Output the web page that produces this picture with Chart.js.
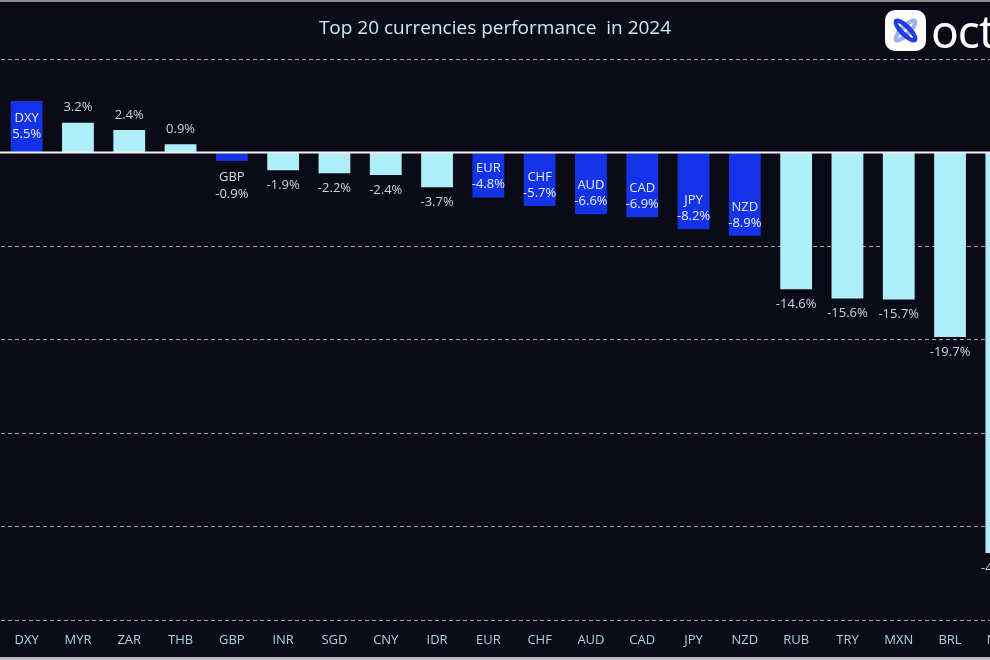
<!DOCTYPE html>
<html>
<head>
<meta charset="utf-8">
<script src="https://cdn.jsdelivr.net/npm/chart.js@4.4.1/dist/chart.umd.min.js"></script>
<style>
  html, body { margin: 0; padding: 0; background: #0b0b17; }
  #wrap { position: relative; width: 990px; height: 660px; overflow: hidden; background: #0b0b17; }
  #wrap canvas { position: absolute; left: 0; top: 0; }
  #titulo { position: absolute; left: 0; top: 14px; width: 990px; text-align: center;
            font-family: "Open Sans", sans-serif; font-size: 19px; color: #c6eef2; }
  #marco-top { position: absolute; left: 0; top: 0; width: 990px; height: 2px; background: #8c8c92; }
  #marco-bot { position: absolute; left: 0; top: 657px; width: 990px; height: 3px; background: #b8b8be; }
  #logo { position: absolute; left: 885px; top: 10px; width: 41px; height: 41px; background: #fff; border-radius: 10px; overflow: hidden; }
  #logo span { position: absolute; left: 5px; top: 14px; width: 31px; height: 13px; border: 5px solid #1f3fe0; border-radius: 50%; box-sizing: border-box; }
  #logo .a { transform: rotate(45deg); }
  #logo .b { transform: rotate(-45deg); border-color: #9fb0f0; }
  #marca { position: absolute; left: 931px; top: -1px; font-family: "Noto Sans", sans-serif; font-size: 46px; color: #fff; letter-spacing: -1px; }
</style>
</head>
<body>
<div id="wrap">
  <canvas id="myChart" width="1030" height="660"></canvas>
  <div id="titulo">Top 20 currencies performance&nbsp; in 2024</div>
  <div id="logo"><span class="b"></span><span class="a"></span></div>
  <div id="marca">octa</div>
  <div id="marco-top"></div>
  <div id="marco-bot"></div>
</div>
<script>
// Datos del grafico
const monedas = ['DXY','MYR','ZAR','THB','GBP','INR','SGD','CNY','IDR','EUR','CHF','AUD','CAD','JPY','NZD','RUB','TRY','MXN','BRL','NGN'];
const cambio = [5.5, 3.2, 2.4, 0.9, -0.9, -1.9, -2.2, -2.4, -3.7, -4.8, -5.7, -6.6, -6.9, -8.2, -8.9, -14.6, -15.6, -15.7, -19.7, -42.8];
const destacadas = ['DXY','GBP','EUR','CHF','AUD','CAD','JPY','NZD'];
const ejeY = [-50, 10, 10]; // min, max, paso

const azul = '#1533e6';
const celeste = '#aeeffa';

const colores = monedas.map(m => destacadas.includes(m) ? azul : celeste);

// Etiquetas sobre las barras y linea del cero
const etiquetas = {
  id: 'etiquetas',
  afterDatasetsDraw(chart) {
    const ctx = chart.ctx;
    const y = chart.scales.y;
    const y0 = y.getPixelForValue(0);

    ctx.save();
    ctx.strokeStyle = '#f2f2f2';
    ctx.lineWidth = 2;
    ctx.beginPath();
    ctx.moveTo(0, y0);
    ctx.lineTo(chart.width, y0);
    ctx.stroke();

    ctx.font = '13px "Open Sans", sans-serif';
    ctx.textAlign = 'center';
    ctx.textBaseline = 'middle';

    const meta = chart.getDatasetMeta(0);
    meta.data.forEach((bar, i) => {
      const v = cambio[i];
      const txt = v.toFixed(1) + '%';
      const nombre = monedas[i];
      if (destacadas.includes(nombre)) {
        const alto = Math.abs(bar.y - bar.base);
        if (alto < 30) {
          // etiqueta fuera de la barra
          ctx.fillStyle = '#d4dde2';
          ctx.fillText(nombre, bar.x, bar.y + 16);
          ctx.fillText(txt, bar.x, bar.y + 33);
        } else {
          const c = v > 0 ? bar.y + 25 : bar.y - 21;
          ctx.fillStyle = '#e6ecff';
          ctx.fillText(nombre, bar.x, c - 8);
          ctx.fillText(txt, bar.x, c + 8);
        }
      } else {
        ctx.fillStyle = '#c8d4da';
        if (v > 0) ctx.fillText(txt, bar.x, bar.y - 15);
        else ctx.fillText(txt, bar.x, bar.y + 15);
      }
    });
    ctx.restore();
  }
};

const ctx = document.getElementById('myChart');

new Chart(ctx, {
  type: 'bar',
  data: {
    labels: monedas,
    datasets: [{
      data: cambio,
      backgroundColor: colores,
      borderWidth: 0,
      barPercentage: 0.62,
      categoryPercentage: 1
    }]
  },
  options: {
    responsive: false,
    animation: false,
    layout: { padding: { top: 59, left: 1, right: 3, bottom: 8 } },
    plugins: {
      legend: { display: false },
      tooltip: { enabled: false }
    },
    scales: {
      x: {
        grid: { display: false },
        border: { display: false },
        ticks: {
          color: '#a9d3da',
          font: { family: '"Open Sans", sans-serif', size: 13 },
          padding: 4,
          maxRotation: 0,
          autoSkip: false
        }
      },
      y: {
        min: ejeY[0],
        max: ejeY[1],
        ticks: { display: false, stepSize: ejeY[2] },
        border: { display: false, dash: [4, 3] },
        grid: {
          drawTicks: false,
          color: c => c.tick.value === 0 ? 'rgba(0,0,0,0)' : '#a8a8ae',
          lineWidth: 1
        }
      }
    }
  },
  plugins: [etiquetas]
});
</script>
</body>
</html>
